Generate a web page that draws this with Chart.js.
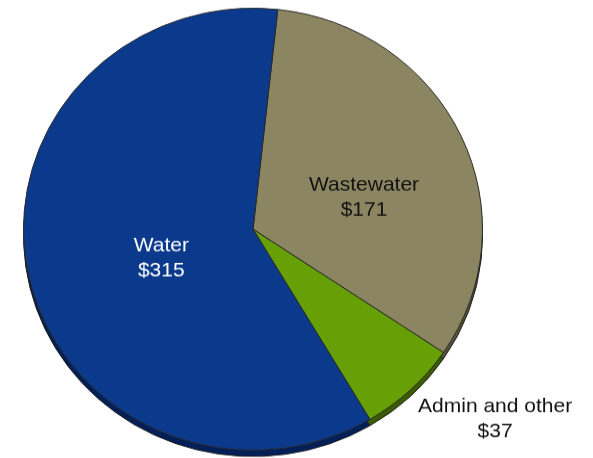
<!DOCTYPE html>
<html>
<head>
<meta charset="utf-8">
<style>
	body { margin: 0; background: #fff; overflow: hidden; }
	#wrap { position: relative; width: 593px; height: 458px; overflow: hidden; }
	/* pie is tilted a little, squash it vertically */
	#pie { position: absolute; left: 0; top: 0; transform: scaleY(0.963); transform-origin: 0 0; }
</style>
<script src="https://cdn.jsdelivr.net/npm/chart.js@4.4.0/dist/chart.umd.min.js"></script>
</head>
<body>
<div id="wrap"><canvas id="pie" width="593" height="476"></canvas></div>
<script>
// budget split, in $ (same order as drawn clockwise from the top)
const categories = ['Wastewater', 'Admin and other', 'Water'];
const amounts = [171, 37, 315];
const sliceColors = ['#8c8562', '#669f06', '#0b3a8c'];
const edgeColors = ['#57523a', '#3b5c00', '#031f58'];
const textColors = ['#111', '#111', '#fff'];

// label placement: fraction of radius along mid angle, then a nudge
const labelSpots = [
	{ frac: 0.5, dx: 7, dy: 16 },
	{ frac: 1.2, dx: 53, dy: -3 },
	{ frac: 0.4, dx: -2, dy: 11 }
];

const depth = 6.5;

// darker copy of each slice pushed down a bit, looks like the side of the disc
const edgePlugin = {
	id: 'edge',
	beforeDatasetsDraw(chart) {
		const c = chart.ctx;
		const meta = chart.getDatasetMeta(0);
		c.save();
		meta.data.forEach((arc, i) => {
			const p = arc.getProps(['x', 'y', 'startAngle', 'endAngle', 'outerRadius'], true);
			c.beginPath();
			c.moveTo(p.x, p.y + depth);
			c.arc(p.x, p.y + depth, p.outerRadius, p.startAngle, p.endAngle);
			c.closePath();
			c.fillStyle = edgeColors[i];
			c.fill();
			c.lineWidth = 1;
			c.strokeStyle = '#1a1a1a';
			c.stroke();
		});
		c.restore();
	}
};

const labelPlugin = {
	id: 'sliceLabels',
	afterDatasetsDraw(chart) {
		const c = chart.ctx;
		const meta = chart.getDatasetMeta(0);
		c.save();
		c.font = '21px "Liberation Sans", Arial, sans-serif';
		c.textAlign = 'center';
		c.textBaseline = 'middle';
		meta.data.forEach((arc, i) => {
			const p = arc.getProps(['x', 'y', 'startAngle', 'endAngle', 'outerRadius'], true);
			const mid = (p.startAngle + p.endAngle) / 2;
			const spot = labelSpots[i];
			const lx = p.x + Math.cos(mid) * p.outerRadius * spot.frac + spot.dx;
			const ly = p.y + Math.sin(mid) * p.outerRadius * spot.frac + spot.dy;
			c.fillStyle = textColors[i];
			c.fillText(categories[i], lx, ly - 13);
			c.fillText('$' + amounts[i], lx, ly + 13);
		});
		c.restore();
	}
};

new Chart(document.getElementById('pie'), {
	type: 'pie',
	data: {
		labels: categories,
		datasets: [{
			data: amounts,
			backgroundColor: sliceColors,
			borderColor: '#2a2a2a',
			borderWidth: 1
		}]
	},
	options: {
		responsive: false,
		animation: false,
		rotation: 6.2,
		layout: { padding: { left: 23, right: 110, top: 8, bottom: 8 } },
		plugins: {
			legend: { display: false },
			tooltip: { enabled: false }
		}
	},
	plugins: [edgePlugin, labelPlugin]
});
</script>
</body>
</html>
